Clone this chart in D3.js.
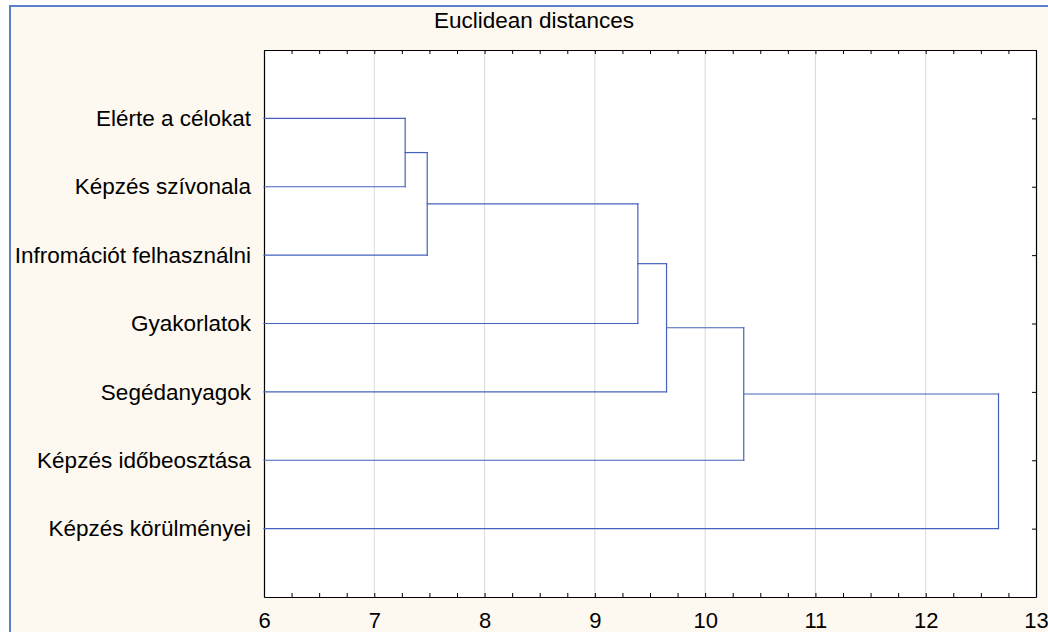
<!DOCTYPE html>
<html>
<head>
<meta charset="utf-8">
<script src="https://cdn.jsdelivr.net/npm/d3@7"></script>
<style>
  html, body { margin: 0; padding: 0; background: #ffffff; }
  svg { display: block; }
  text { font-family: "Liberation Sans", Arial, sans-serif; fill: #000; }
</style>
</head>
<body>
<svg id="chart" width="1048" height="632"></svg>
<script>
// ---- Data ----
const title = "Euclidean distances";
const leafLabels = [
  "Elérte a célokat",
  "Képzés szívonala",
  "Infromációt felhasználni",
  "Gyakorlatok",
  "Segédanyagok",
  "Képzés időbeosztása",
  "Képzés körülményei"
];
// merges: ids 0..6 are leaves, 7+ are clusters created in order
const mergeLeft  = [0, 7, 8, 9, 10, 11];
const mergeRight = [1, 2, 3, 4, 5, 6];
const mergeHeights = [7.28, 7.48, 9.39, 9.65, 10.35, 12.66];
const xTicks = [6, 7, 8, 9, 10, 11, 12, 13];
const xDomain = [6, 13];

// ---- Layout ----
const svg = d3.select("#chart");
const W = 1048, H = 632;
const plot = { left: 264, right: 1036, top: 50, bottom: 597 };
const FONT = '"Liberation Sans", Arial, sans-serif';

// outer background panel
svg.append("rect").attr("x", 0).attr("y", 0).attr("width", W).attr("height", H).attr("fill", "#ffffff");
svg.append("rect")
  .attr("x", 10).attr("y", 6).attr("width", W + 20).attr("height", H + 20)
  .attr("fill", "#fdf8f0").attr("stroke", "#5b7fcc").attr("stroke-width", 2);

const x = d3.scaleLinear().domain(xDomain).range([plot.left, plot.right]);
const y = d3.scaleLinear().domain([0, leafLabels.length + 1]).range([plot.top, plot.bottom]);

// plot area
svg.append("rect")
  .attr("x", plot.left).attr("y", plot.top)
  .attr("width", plot.right - plot.left).attr("height", plot.bottom - plot.top)
  .attr("fill", "#ffffff");

// grid lines
svg.append("g").selectAll("line")
  .data(xTicks.filter(t => t > xDomain[0] && t < xDomain[1]))
  .join("line")
  .attr("x1", d => x(d)).attr("x2", d => x(d))
  .attr("y1", plot.top).attr("y2", plot.bottom)
  .attr("stroke", "#d9d9d9").attr("stroke-width", 1);

// minor tick values (every 0.25)
const minor = d3.range(xDomain[0], xDomain[1] + 0.001, 0.25);

// bottom axis: inward ticks
svg.append("g").attr("transform", `translate(0,${plot.bottom})`)
  .call(d3.axisBottom(x).tickValues(minor).tickSizeInner(-4).tickSizeOuter(0).tickFormat(""));
// bottom labels
const gBL = svg.append("g").attr("transform", `translate(0,${plot.bottom})`)
  .call(d3.axisBottom(x).tickValues(xTicks).tickSize(0).tickPadding(15).tickFormat(d3.format("d")));
gBL.select(".domain").remove();
gBL.selectAll("text").style("font-size", "22px").style("font-family", FONT);

// top axis: inward ticks
svg.append("g").attr("transform", `translate(0,${plot.top})`)
  .call(d3.axisTop(x).tickValues(minor).tickSizeInner(-4).tickSizeOuter(0).tickFormat(""));

const leafPos = leafLabels.map((d, i) => i + 1);

// right axis: inward ticks at leaves
svg.append("g").attr("transform", `translate(${plot.right},0)`)
  .call(d3.axisRight(y).tickValues(leafPos).tickSizeInner(-4).tickSizeOuter(0).tickFormat(""));

// left axis with labels
const gL = svg.append("g").attr("transform", `translate(${plot.left},0)`)
  .call(d3.axisLeft(y).tickValues(leafPos).tickSizeInner(0).tickSizeOuter(0).tickPadding(13)
        .tickFormat((d, i) => leafLabels[i]));
gL.selectAll("text").style("font-size", "22.5px").style("font-family", FONT);

svg.selectAll(".domain").attr("stroke", "#000").attr("stroke-width", 1.2);
svg.selectAll(".tick line").attr("stroke", "#000");

// ---- Dendrogram ----
const nodes = leafLabels.map((d, i) => ({ h: xDomain[0], pos: i + 1 }));
const segs = [];
mergeHeights.forEach((h, k) => {
  const a = nodes[mergeLeft[k]], b = nodes[mergeRight[k]];
  segs.push([a.h, a.pos, h, a.pos]);
  segs.push([b.h, b.pos, h, b.pos]);
  segs.push([h, a.pos, h, b.pos]);
  nodes.push({ h: h, pos: (a.pos + b.pos) / 2 });
});
svg.append("g").selectAll("line").data(segs).join("line")
  .attr("x1", d => x(d[0])).attr("y1", d => y(d[1]))
  .attr("x2", d => x(d[2])).attr("y2", d => y(d[3]))
  .attr("stroke", "#4462bd").attr("stroke-width", 1.2)
  .attr("stroke-linecap", "square");

// title
svg.append("text").attr("x", 534).attr("y", 28)
  .attr("text-anchor", "middle").style("font-size", "22.5px").style("font-family", FONT).text(title);
</script>
</body>
</html>
